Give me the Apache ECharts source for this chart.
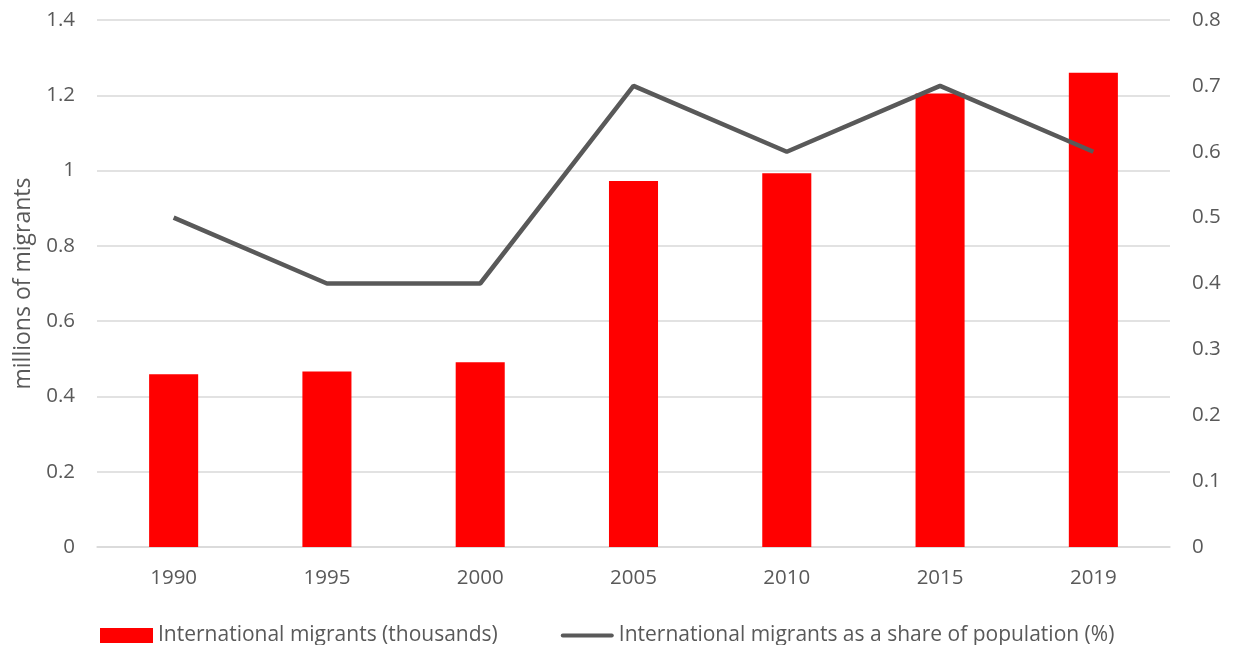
<!DOCTYPE html>
<html><head><meta charset="utf-8">
<script src="https://cdn.jsdelivr.net/npm/echarts@6/dist/echarts.min.js"></script>
<style>html,body{margin:0;padding:0;background:#fff}#c{width:1233px;height:645px}</style>
</head><body><div id="c"></div>
<script>
const categories = ['1990','1995','2000','2005','2010','2015','2019'];
const migrants = [0.459, 0.466, 0.491, 0.972, 0.993, 1.205, 1.260];
const sharePct = [0.5, 0.4, 0.4, 0.7, 0.6, 0.7, 0.6];
const leftTicks = {min:0, max:1.4, interval:0.2};
const rightTicks = {min:0, max:0.8, interval:0.1};

const FONT = "'Open Sans', 'Liberation Sans', sans-serif";
const TXT = '#595959';
const chart = echarts.init(document.getElementById('c'), null, {renderer:'canvas'});
chart.setOption({
  animation:false,
  backgroundColor:'#fff',
  textStyle:{fontFamily:FONT},
  grid:{left:97, right:63, top:20, bottom:98, containLabel:false},
  legend:{
    left:95, top:620, itemWidth:53, itemHeight:15, itemGap:63,
    textStyle:{fontSize:21, color:TXT, fontFamily:FONT, padding:[0,0,0,0]},
    data:[{name:'International migrants (thousands)', icon:'rect'},
          {name:'International migrants as a share of population (%)',
           icon:'path://M0,0 M0,15 M2,5.5 L51,5.5 A2,2 0 0 1 51,9.5 L2,9.5 A2,2 0 0 1 2,5.5 Z'}]
  },
  xAxis:{
    type:'category', data:categories,
    axisLine:{lineStyle:{color:'#d9d9d9', width:1.5}},
    axisTick:{show:false},
    axisLabel:{fontSize:20.5, color:TXT, margin:21, fontFamily:FONT}
  },
  yAxis:[
    {type:'value', min:leftTicks.min, max:leftTicks.max, interval:leftTicks.interval,
     name:'millions of migrants', nameLocation:'middle', nameGap:58, nameRotate:90,
     nameTextStyle:{fontSize:23, color:TXT, fontFamily:FONT},
     axisLabel:{fontSize:20.5, color:TXT, margin:22, fontFamily:FONT,
       formatter:v=>String(+v.toFixed(1))},
     splitLine:{lineStyle:{color:'#d9d9d9', width:1.5}},
     axisLine:{show:false}, axisTick:{show:false}},
    {type:'value', min:rightTicks.min, max:rightTicks.max, interval:rightTicks.interval,
     axisLabel:{fontSize:20.5, color:TXT, margin:22, fontFamily:FONT,
       formatter:v=>String(+v.toFixed(1))},
     splitLine:{show:false}, axisLine:{show:false}, axisTick:{show:false}}
  ],
  series:[
    {name:'International migrants (thousands)', type:'bar', data:migrants,
     barWidth:'32%', itemStyle:{color:'#ff0000'}, yAxisIndex:0},
    {name:'International migrants as a share of population (%)', type:'line', data:sharePct,
     yAxisIndex:1, symbol:'none', lineStyle:{color:'#595959', width:4.5},
     itemStyle:{color:'#595959'}}
  ]
});
</script></body></html>
